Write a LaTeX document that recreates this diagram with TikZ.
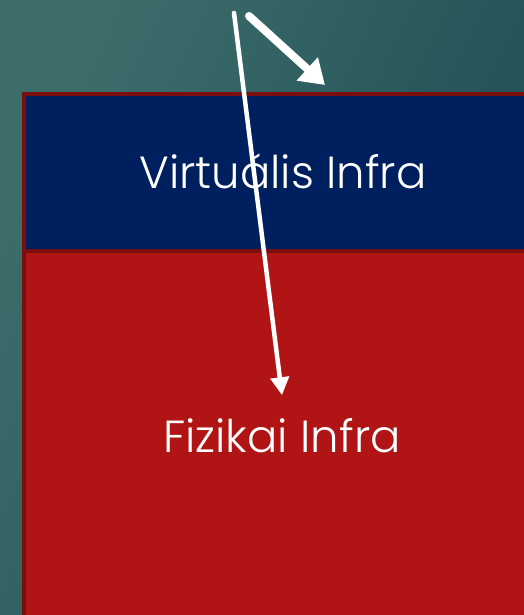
\documentclass[tikz,border=0pt]{standalone}
\usepackage{fontspec}
\setmainfont{Poppins}[UprightFont=* Light]
\usepackage{tikz}
\usetikzlibrary{positioning,calc,arrows.meta}
\definecolor{tealbg}{rgb}{0.24, 0.43, 0.42}
\definecolor{tealdark}{rgb}{0.11, 0.29, 0.32}
\definecolor{virtblue}{rgb}{0.0, 0.12, 0.37}
\definecolor{fizred}{rgb}{0.69, 0.08, 0.08}
\definecolor{edgered}{rgb}{0.48, 0.06, 0.06}

\begin{document}
\begin{tikzpicture}[x=1pt,y=-1pt]
		
		\useasboundingbox (0,0) rectangle (524,615);
		\clip (0,0) rectangle (524,615);
		\shade[shading=axis,left color=tealbg,right color=tealdark,shading angle=65] (0,0) rectangle (524,615);
		
		\node[rectangle,draw=edgered,line width=4pt,fill=fizred,minimum width=520pt,minimum height=400pt,anchor=north west] (fiz) at  (22,249){};
		
		\node[rectangle,draw=edgered,line width=4pt,fill=virtblue,minimum width=520pt,minimum height=157pt,anchor=north west] (virt) at  (22,92){};
		
		\node[text=white,font=\fontsize{45}{45}\selectfont] (virt label) at  (283,171){Virtuális Infra};
		
		\node[text=white,font=\fontsize{45}{45}\selectfont] (fiz label) at  (282,436){Fizikai Infra};
		
		\coordinate (Src A) at  (234,13);
		\coordinate (Src B) at  (249,16);
		\coordinate (Above fiz) at  ($(fiz label.north)+(0,-20)$);
		\coordinate (Above virt) at  (325,85);
		
		%\draw [white,-latex,ultra thick] (Src A) -- (fiz label);
		\draw[white,line width=4.5pt,line cap=round,-{Triangle[length=18pt,width=18pt]}] (Src A) -- (Above fiz);

		\draw[white,line width=8pt,line cap=round,-{Triangle[length=24pt,width=30pt]}] (Src B) -- (Above virt);
		
		\end{tikzpicture}
\end{document}
